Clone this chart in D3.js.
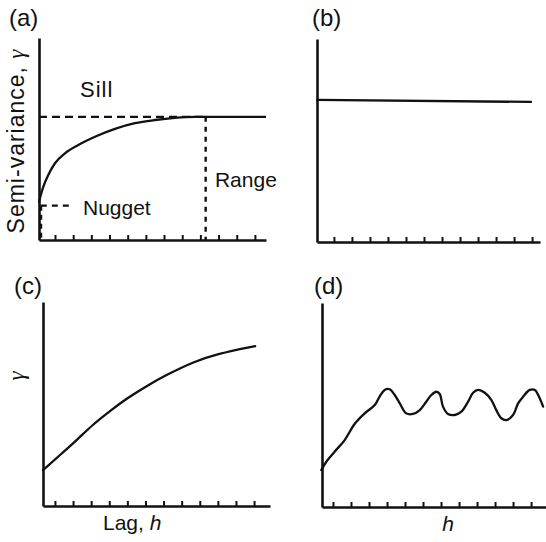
<!DOCTYPE html>
<html>
<head>
<meta charset="utf-8">
<title>Semivariogram models</title>
<style>
body { margin: 0; background: #fff; }
svg text { font-family: "Liberation Sans", Arial, sans-serif; fill: #111; }
.axis path, .axis line { stroke: #111; }
.axis text { display: none; }
</style>
<script src="https://d3js.org/d3.v7.min.js"></script>
</head>
<body>
<div id="chart"></div>
<script>
// lag ticks (same on all four panels)
var lagTicks = [1, 2, 3, 4, 5, 6, 7, 8, 9, 10, 11, 12];

// (a) bounded model with nugget, sill and range
var aLag   = [0.12, 0.36, 0.63, 1.0, 1.55, 2.28, 3.2, 4.3, 5.4, 6.5, 7.6, 8.7, 9.29];
var aGamma = [19.0, 26.4, 32.2, 38.0, 42.9, 47.0, 51.1, 55.0, 57.8, 59.4, 60.5, 61.0, 61.0];
var sill = 61.0, nugget = 17.0, range = 9.29, nuggetEnd = 1.94;

// (b) pure nugget
var bLag   = [0.06, 11.94];
var bGamma = [70.0, 69.0];

// (c) unbounded / slowly rising
var cLag   = [0.34, 1.28, 2.22, 3.10, 4.04, 4.98, 6.09, 7.19, 8.63, 9.96, 12.06];
var cGamma = [17.6, 25.0, 32.4, 40.0, 46.6, 52.8, 59.0, 64.4, 70.6, 74.6, 78.4];

// (d) hole effect
var dLag   = [0.35, 0.63, 1.09, 1.65, 2.20, 2.76, 3.32, 3.59, 3.87, 4.15, 4.43, 4.71, 5.07, 5.44,
              5.82, 6.18, 6.46, 6.74, 6.93, 7.11, 7.39, 7.76, 8.13, 8.50, 8.78, 9.06, 9.43, 9.79,
              10.07, 10.35, 10.63, 11.0, 11.28, 11.56, 11.93, 12.21, 12.48, 12.67];
var dGamma = [18.1, 22.2, 27.1, 32.8, 40.7, 45.9, 50.0, 54.1, 57.4, 57.7, 54.9, 50.8, 45.9, 45.6,
              47.5, 51.6, 54.9, 56.5, 55.4, 49.2, 45.6, 45.1, 46.7, 51.6, 56.0, 57.4, 56.0, 52.5,
              47.5, 43.5, 42.6, 45.1, 50.8, 54.1, 57.4, 57.4, 53.3, 49.2];

var svg = d3.select("#chart").append("svg")
  .attr("width", 546)
  .attr("height", 542);

// panel frames: pixel box + lag domain at the axis ends
var panels = [
  { id: "a", left: 39,  right: 266, top: 38,  bottom: 240, x0: 0.12, x1: 12.61 },
  { id: "b", left: 317, right: 540, top: 39,  bottom: 242, x0: 0.06, x1: 12.44 },
  { id: "c", left: 43,  right: 270, top: 302, bottom: 506, x0: 0.34, x1: 12.88 },
  { id: "d", left: 322, right: 546, top: 303, bottom: 507, x0: 0.39, x1: 12.83 }
];

var line = d3.line().x(function(d) { return d.x; }).y(function(d) { return d.y; });

function make_panel(p) {
  p.x = d3.scaleLinear().domain([p.x0, p.x1]).range([p.left, p.right]);
  p.y = d3.scaleLinear().domain([0, 100]).range([p.bottom, p.top]);

  svg.append("g")
     .attr("class", "axis")
     .attr("transform", "translate(0," + p.bottom + ")")
     .call(d3.axisBottom(p.x).tickValues(lagTicks).tickSize(-5).tickSizeOuter(0))
     .call(function(g) {
       g.select(".domain").attr("stroke-width", 2.6);
       g.selectAll(".tick line").attr("stroke-width", 2);
     });

  svg.append("g")
     .attr("class", "axis")
     .attr("transform", "translate(" + p.left + ",0)")
     .call(d3.axisLeft(p.y).tickValues([]).tickSizeOuter(0))
     .call(function(g) { g.select(".domain").attr("stroke-width", 2.6); });
  return p;
}

panels.forEach(make_panel);
var pa = panels[0], pb = panels[1], pc = panels[2], pd = panels[3];

function draw_curve(p, xs, ys, curve) {
  var pts = xs.map(function(v, i) { return { x: p.x(v), y: p.y(ys[i]) }; });
  return svg.append("path")
    .attr("d", line.curve(curve)(pts))
    .attr("fill", "none")
    .attr("stroke", "#111")
    .attr("stroke-width", 2.3)
    .attr("stroke-linejoin", "round")
    .attr("stroke-linecap", "round");
}

function seg(p, xa, ya, xb, yb, dash, w) {
  svg.append("line")
     .attr("x1", p.x(xa)).attr("y1", p.y(ya))
     .attr("x2", p.x(xb)).attr("y2", p.y(yb))
     .attr("stroke", "#111")
     .attr("stroke-width", w || 2)
     .attr("stroke-dasharray", dash);
}

// (a)
seg(pa, pa.x0, sill, range, sill, "8,5", 2.2);
seg(pa, range, sill, pa.x1, sill, null, 2.3);
seg(pa, range, sill, range, 0, "5,5", 2.4);
seg(pa, pa.x0 + 0.1, nugget, nuggetEnd, nugget, "6,5", 2.2);
seg(pa, pa.x0 + 0.1, nugget, pa.x0 + 0.1, 0, "5,4", 2.8);
draw_curve(pa, aLag, aGamma, d3.curveMonotoneX);

// (b)
draw_curve(pb, bLag, bGamma, d3.curveLinear);

// (c)
draw_curve(pc, cLag, cGamma, d3.curveBasis);

// (d)
draw_curve(pd, dLag, dGamma, d3.curveCatmullRom.alpha(0.5));

// text
function label(x, y, txt, size, spacing) {
  return svg.append("text").attr("x", x).attr("y", y)
    .style("font-size", (size || 21) + "px")
    .style("letter-spacing", (spacing || 0) + "px")
    .text(txt);
}

label(9, 26, "(a)", 24);
label(312, 26, "(b)", 24);
label(14, 294, "(c)", 24);
label(314, 294, "(d)", 24);

label(pa.x(2.38), pa.y(70.8), "Sill", 22, 1);
label(pa.x(2.54), pa.y(12.4), "Nugget");
label(pa.x(9.8), pa.y(26.2), "Range");

var yl = svg.append("text")
  .attr("transform", "translate(24,141) rotate(-90)")
  .attr("text-anchor", "middle")
  .style("font-size", "23px")
  .style("letter-spacing", "1px");
yl.append("tspan").text("Semi-variance, ");
yl.append("tspan").style("font-family", "'Liberation Serif', serif").style("font-style", "italic").text("γ");

svg.append("text")
  .attr("transform", "translate(24,376) rotate(-90)")
  .attr("text-anchor", "middle")
  .style("font-size", "23px")
  .style("font-family", "'Liberation Serif', serif")
  .style("font-style", "italic")
  .text("γ");

var xl = svg.append("text")
  .attr("x", 103).attr("y", 530)
  .style("font-size", "21px");
xl.append("tspan").text("Lag, ");
xl.append("tspan").style("font-style", "italic").text("h");

svg.append("text")
  .attr("x", 448).attr("y", 531)
  .attr("text-anchor", "middle")
  .style("font-size", "21px")
  .style("font-style", "italic")
  .text("h");
</script>
</body>
</html>
